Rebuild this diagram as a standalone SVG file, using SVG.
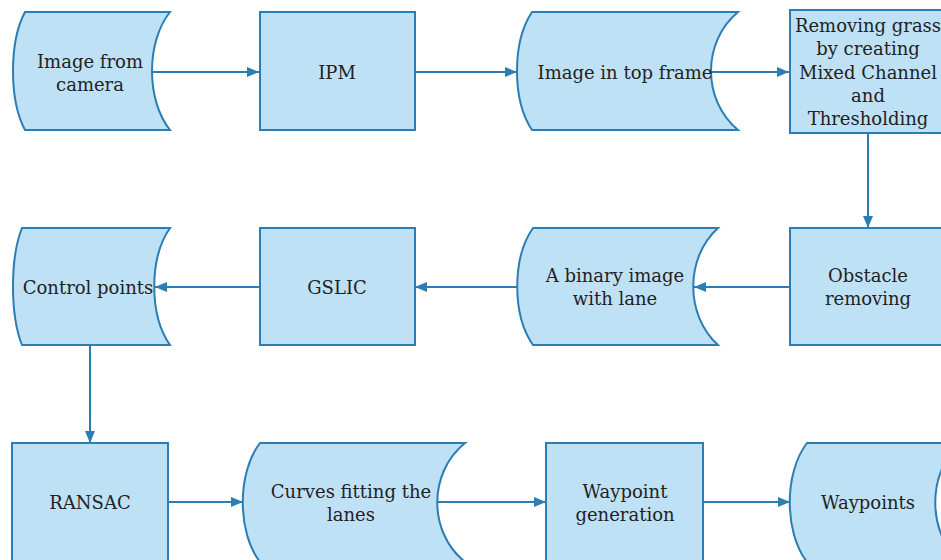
<svg xmlns="http://www.w3.org/2000/svg" width="941" height="560" viewBox="0 0 941 560">
<defs>
<style>
.n{fill:#bfe1f6;stroke:#2b7db3;stroke-width:2}
.t{font-family:"DejaVu Serif","Liberation Serif",serif;font-size:18px;fill:#222222;text-anchor:middle;dominant-baseline:central}
.c{stroke:#2b7db3;stroke-width:2;fill:none;marker-end:url(#a)}
</style>
<marker id="a" viewBox="0 0 12 10" refX="12" refY="5" markerWidth="12" markerHeight="10" markerUnits="userSpaceOnUse" orient="auto">
<path d="M0,0 L12,5 L0,10 Z" fill="#2b7db3"/>
</marker>
</defs>
<rect width="941" height="560" fill="#ffffff"/>
<g id="connectors">
<line class="c" x1="152" y1="72" x2="259" y2="72"/>
<line class="c" x1="415" y1="72" x2="517" y2="72"/>
<line class="c" x1="711" y1="72" x2="789" y2="72"/>
<line class="c" x1="868" y1="133" x2="868" y2="228"/>
<line class="c" x1="790" y1="287" x2="694" y2="287"/>
<line class="c" x1="517" y1="287" x2="415" y2="287"/>
<line class="c" x1="260" y1="287" x2="155" y2="287"/>
<line class="c" x1="90" y1="345" x2="90" y2="443"/>
<line class="c" x1="168" y1="502" x2="243" y2="502"/>
<line class="c" x1="437" y1="502" x2="546" y2="502"/>
<line class="c" x1="703" y1="502" x2="790" y2="502"/>
</g>
<g id="n1">
<path class="n" d="M25,12 L170,12 C146,42 146,100 170,130 L25,130 C9,100 9,42 25,12 Z"/>
<text class="t" x="90" y="61">Image from</text>
<text class="t" x="90" y="84">camera</text>
</g>
<g id="n2">
<rect class="n" x="260" y="12" width="155" height="118"/>
<text class="t" x="337" y="72">IPM</text>
</g>
<g id="n3">
<path class="n" d="M532,12 L738,12 C702,42 702,100 738,130 L532,130 C512,100 512,42 532,12 Z"/>
<text class="t" x="625" y="72">Image in top frame</text>
</g>
<g id="n4">
<rect class="n" x="790" y="10" width="160" height="123"/>
<text class="t" x="868" y="25">Removing grass</text>
<text class="t" x="868" y="48">by creating</text>
<text class="t" x="868" y="72">Mixed Channel</text>
<text class="t" x="868" y="95">and</text>
<text class="t" x="868" y="118">Thresholding</text>
</g>
<g id="n5">
<rect class="n" x="790" y="228" width="160" height="117"/>
<text class="t" x="868" y="275">Obstacle</text>
<text class="t" x="868" y="298">removing</text>
</g>
<g id="n6">
<path class="n" d="M533,228 L718,228 C685,258 685,315 718,345 L533,345 C512,315 512,258 533,228 Z"/>
<text class="t" x="615" y="275">A binary image</text>
<text class="t" x="615" y="298">with lane</text>
</g>
<g id="n7">
<rect class="n" x="260" y="228" width="155" height="117"/>
<text class="t" x="337" y="287">GSLIC</text>
</g>
<g id="n8">
<path class="n" d="M22,228 L170,228 C149,258 149,315 170,345 L22,345 C10,315 10,258 22,228 Z"/>
<text class="t" x="88" y="287">Control points</text>
</g>
<g id="n9">
<rect class="n" x="12" y="443" width="156" height="120"/>
<text class="t" x="90" y="502">RANSAC</text>
</g>
<g id="n10">
<path class="n" d="M260,443 L465,443 C428,473 428,532 465,562 L260,562 C237,532 237,473 260,443 Z"/>
<text class="t" x="351" y="491">Curves fitting the</text>
<text class="t" x="351" y="514">lanes</text>
</g>
<g id="n11">
<rect class="n" x="546" y="443" width="157" height="120"/>
<text class="t" x="625" y="491">Waypoint</text>
<text class="t" x="625" y="514">generation</text>
</g>
<g id="n12">
<path class="n" d="M807,443 L960,443 C927,473 927,532 960,562 L807,562 C784,532 784,473 807,443 Z"/>
<text class="t" x="868" y="502">Waypoints</text>
</g>
</svg>
